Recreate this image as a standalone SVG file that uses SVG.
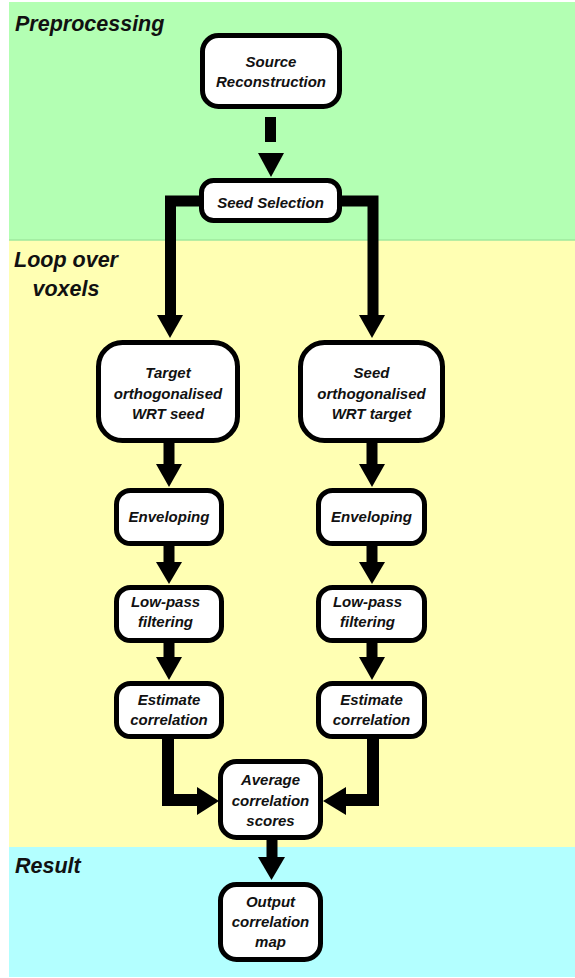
<svg xmlns="http://www.w3.org/2000/svg" width="575" height="978" viewBox="0 0 575 978">
<style>
.node rect{fill:#fff;stroke:#000;stroke-width:5}
.node text{font-family:"Liberation Sans",Arial,sans-serif;font-weight:bold;font-style:italic;font-size:15px;fill:#111;text-anchor:middle}
.sec{font-family:"Liberation Sans",Arial,sans-serif;font-weight:bold;font-style:italic;font-size:21.5px;fill:#111}
.wire{fill:none;stroke:#000;stroke-width:11;stroke-linejoin:miter}
.head{fill:#000}
</style>
<rect x="0" y="0" width="575" height="978" fill="#fff"/>
<rect x="9" y="2" width="566" height="238" fill="#b3ffb3"/>
<rect x="9" y="240" width="566" height="107" fill="#ffffb3" transform="translate(0,0)"/>
<rect x="9" y="240" width="566" height="607" fill="#ffffb3"/>
<line x1="9" y1="240" x2="575" y2="240" stroke="#9ee89e" stroke-width="1.5"/>
<rect x="9" y="847" width="566" height="130" fill="#b3ffff"/>
<text class="sec" x="15" y="31">Preprocessing</text>
<text class="sec" x="66" y="267" text-anchor="middle">Loop over</text>
<text class="sec" x="66" y="296" text-anchor="middle">voxels</text>
<text class="sec" x="15" y="873">Result</text>

<g id="connectors">
<rect x="265" y="117" width="11" height="25" fill="#000"/>
<polygon class="head" points="258,153 284,153 271,177"/>
<path class="wire" d="M201,201 H170.5 V316"/>
<polygon class="head" points="157,315 183,315 170,338"/>
<path class="wire" d="M340,201 H373 V316"/>
<polygon class="head" points="359,315 385,315 372,338"/>
<path class="wire" d="M169,441 V465"/>
<polygon class="head" points="156,464 182,464 169,487"/>
<path class="wire" d="M372,441 V465"/>
<polygon class="head" points="359,464 385,464 372,487"/>
<path class="wire" d="M169,544 V563"/>
<polygon class="head" points="156,562 182,562 169,584"/>
<path class="wire" d="M372,544 V563"/>
<polygon class="head" points="359,562 385,562 372,584"/>
<path class="wire" d="M169,641 V658"/>
<polygon class="head" points="156,657 182,657 169,680"/>
<path class="wire" d="M372,641 V658"/>
<polygon class="head" points="359,657 385,657 372,680"/>
<path class="wire" d="M168,737 V800 H199" style="stroke-width:12"/>
<polygon class="head" points="197,787 197,815 219,801"/>
<path class="wire" d="M373,737 V800 H344" style="stroke-width:12"/>
<polygon class="head" points="346,787 346,815 323,801"/>
<path class="wire" d="M272,838 V858"/>
<polygon class="head" points="258,857 285,857 271.5,880"/>
</g>

<g id="source" class="node"><rect x="202.5" y="35.5" width="137" height="71" rx="16"/><text x="271" y="67">Source</text><text x="271" y="87">Reconstruction</text></g>
<g id="seedsel" class="node"><rect x="201.5" y="180.5" width="138" height="40" rx="12"/><text x="270.5" y="208">Seed Selection</text></g>
<g id="target" class="node"><rect x="98.5" y="342.5" width="139" height="98" rx="24"/><text x="168" y="378">Target</text><text x="168" y="399">orthogonalised</text><text x="168" y="419">WRT seed</text></g>
<g id="seedorth" class="node"><rect x="300.5" y="342.5" width="142" height="98" rx="24"/><text x="371.5" y="378">Seed</text><text x="371.5" y="399">orthogonalised</text><text x="371.5" y="419">WRT target</text></g>
<g id="envL" class="node"><rect x="116.5" y="490.5" width="105" height="53" rx="14"/><text x="169" y="522">Enveloping</text></g>
<g id="envR" class="node"><rect x="318.5" y="490.5" width="106" height="53" rx="14"/><text x="371.5" y="522">Enveloping</text></g>
<g id="lpL" class="node"><rect x="116.5" y="587.5" width="105" height="53" rx="14"/><text x="165.5" y="607">Low-pass</text><text x="165.5" y="627">filtering</text></g>
<g id="lpR" class="node"><rect x="318.5" y="587.5" width="106" height="53" rx="14"/><text x="367.5" y="607">Low-pass</text><text x="367.5" y="627">filtering</text></g>
<g id="estL" class="node"><rect x="116.5" y="683.5" width="105" height="53" rx="14"/><text x="169" y="705">Estimate</text><text x="169" y="725">correlation</text></g>
<g id="estR" class="node"><rect x="318.5" y="683.5" width="106" height="53" rx="14"/><text x="371.5" y="705">Estimate</text><text x="371.5" y="725">correlation</text></g>
<g id="avg" class="node"><rect x="220.5" y="761.5" width="100" height="76" rx="16"/><text x="270.5" y="785">Average</text><text x="270.5" y="806">correlation</text><text x="270.5" y="826">scores</text></g>
<g id="out" class="node"><rect x="220.5" y="884.5" width="100" height="75" rx="16"/><text x="270.5" y="907">Output</text><text x="270.5" y="927">correlation</text><text x="270.5" y="947">map</text></g>
</svg>
